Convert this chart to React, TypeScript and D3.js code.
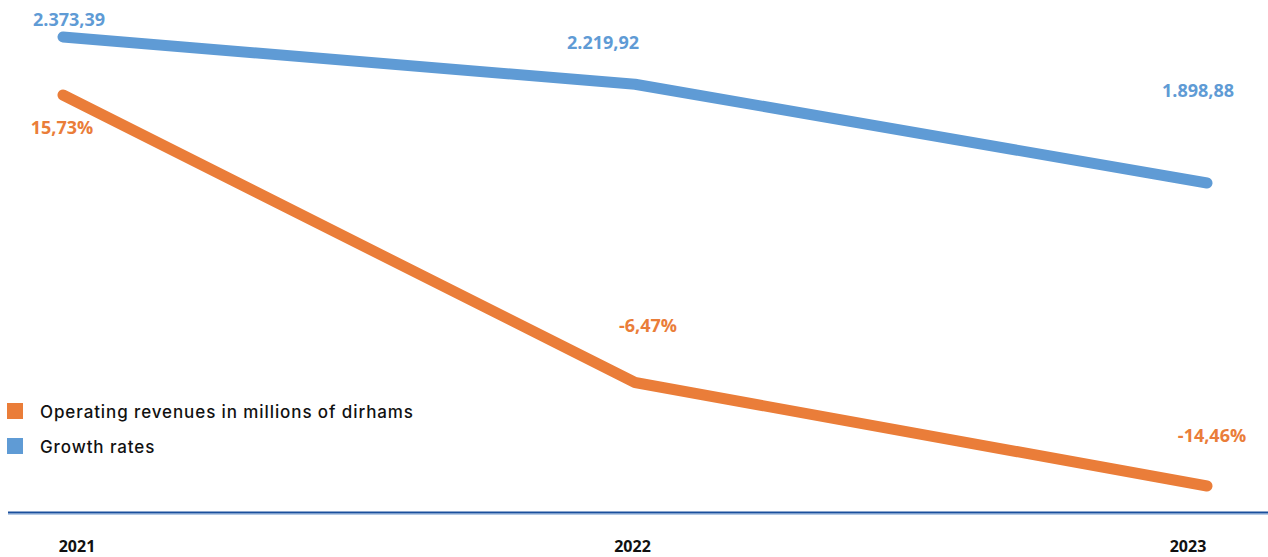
import React from "react";
import * as d3 from "d3";

const years = ["2021", "2022", "2023"];
const revenues = [2373.39, 2219.92, 1898.88];
const revenueLabels = ["2.373,39", "2.219,92", "1.898,88"];
const growth = [15.73, -6.47, -14.46];
const growthLabels = ["15,73%", "-6,47%", "-14,46%"];
const legendItems = ["Operating revenues in millions of dirhams", "Growth rates"];

const W = 1268;
const H = 557;
const BLUE = "#5f9bd5";
const ORANGE = "#ea7d39";

export default function App() {
  const x = d3.scalePoint<string>().domain(years).range([63, 1207]);
  const xLabel = d3.scalePoint<string>().domain(years).range([77, 1188]);
  const yBlue = d3.scaleLinear().domain([1898.88, 2373.39]).range([183, 37]);
  const yOrange = d3.scaleLinear().domain([-14.46, 15.73]).range([486, 95]);

  const blueLine = d3
    .line<number>()
    .x((_, i) => x(years[i])!)
    .y((d) => yBlue(d));
  const orangeLine = d3
    .line<number>()
    .x((_, i) => x(years[i])!)
    .y((d) => yOrange(d));

  const blueDy = [-11, -35, -86];
  const blueDx = [6, -32, -9];
  const orangeDy = [39, -51, -44];
  const orangeDx = [-1, 13, 5];

  const labelFont = "'Open Sans', sans-serif";

  return (
    <svg width={W} height={H} style={{ position: "absolute", left: 0, top: 0 }}>
      <rect width={W} height={H} fill="#fff" />
      <path d={blueLine(revenues)!} fill="none" stroke={BLUE} strokeWidth={11} strokeLinecap="round" strokeLinejoin="round" />
      <path d={orangeLine(growth)!} fill="none" stroke={ORANGE} strokeWidth={11} strokeLinecap="round" strokeLinejoin="round" />
      {revenues.map((v, i) => (
        <text
          key={"b" + i}
          x={x(years[i])! + blueDx[i]}
          y={yBlue(v) + blueDy[i]}
          textAnchor="middle"
          fill={BLUE}
          fontFamily={labelFont}
          fontWeight={700}
          fontSize={18}
        >
          {revenueLabels[i]}
        </text>
      ))}
      {growth.map((v, i) => (
        <text
          key={"o" + i}
          x={x(years[i])! + orangeDx[i]}
          y={yOrange(v) + orangeDy[i]}
          textAnchor="middle"
          fill={ORANGE}
          fontFamily={labelFont}
          fontWeight={700}
          fontSize={18}
        >
          {growthLabels[i]}
        </text>
      ))}
      <line x1={8} x2={W} y1={512.5} y2={512.5} stroke="#1a4f9c" strokeWidth={2} />
      <line x1={8} x2={W} y1={514} y2={514} stroke="#6e97cc" strokeWidth={1} />
      {years.map((yr) => (
        <text
          key={yr}
          x={xLabel(yr)}
          y={552}
          textAnchor="middle"
          fill="#111"
          fontFamily={labelFont}
          fontWeight={700}
          fontSize={16}
        >
          {yr}
        </text>
      ))}
      {legendItems.map((t, i) => (
        <g key={t} transform={`translate(7, ${403 + i * 35})`}>
          <rect width={16} height={16} fill={i === 0 ? ORANGE : BLUE} />
          <text
            x={33}
            y={15}
            fill="#111"
            fontFamily="Inter, sans-serif"
            fontWeight={500}
            fontSize={17}
            letterSpacing={0.9}
          >
            {t}
          </text>
        </g>
      ))}
    </svg>
  );
}
